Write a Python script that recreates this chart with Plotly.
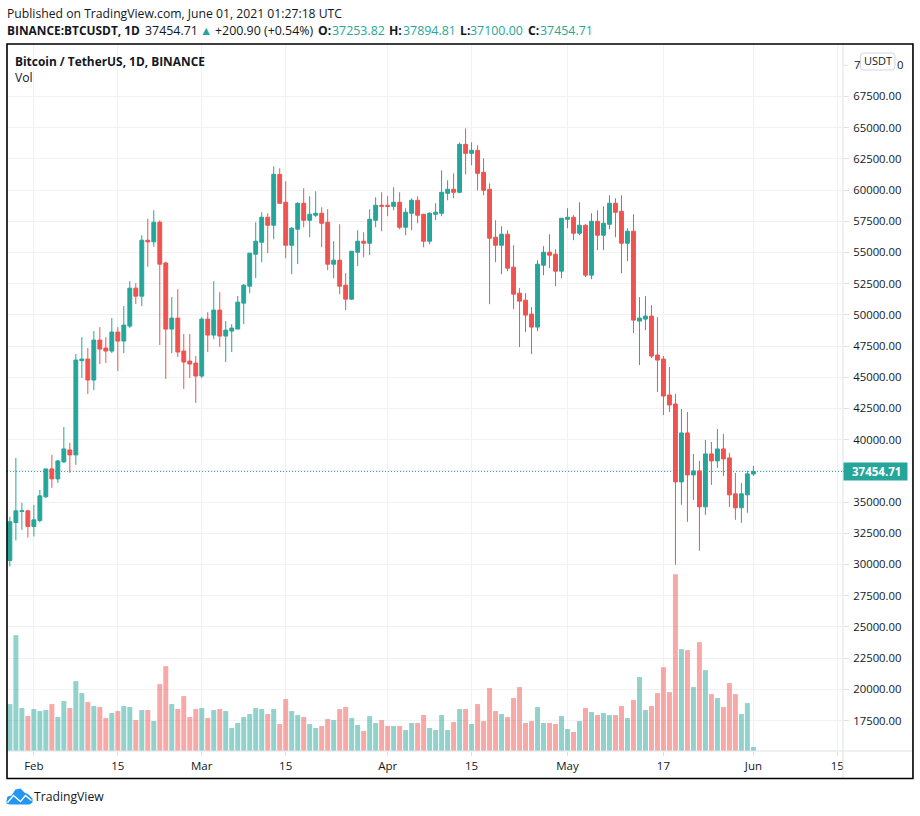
import pandas as pd
import plotly.graph_objects as go

FIRST_DAY = "2021-01-28"
opens = [30324,33365,34250,34300,33045,33525,35420,37660,36860,38220,39180,38780,46330,46460,44780,47980,47340,47100,48620,47900,49100,52140,51500,55980,55850,57420,54160,48860,49740,47100,46300,46140,
         45100,49660,48380,50380,48300,48700,48860,50940,52300,54860,55820,57820,57180,61260,59020,55580,56860,58940,57580,57980,58140,57420,54060,54380,52380,51260,55020,55900,55740,57580,58780,
         58780,58700,59020,57020,58140,59180,58060,55900,58060,58140,59740,60060,59820,63660,62940,63180,61420,60060,56220,55580,56460,53820,51740,51180,50060,49020,53980,55020,54860,53500,
         57660,57820,56540,57180,53180,57500,56380,57260,58940,58300,55740,56700,49500,49660,49900,46780,46460,43580,42860,36620,40540,37180,37500,34620,38860,38300,39260,38540,35660,34540,35580,37253.82]
highs = [33820,38540,34940,34380,34780,35980,37660,38780,38380,41020,39740,46860,48220,47340,48700,49020,48220,49740,49020,50700,52700,52540,56380,57710,58380,57580,54250,51420,52060,48460,48460,46700,
         49820,50220,52700,51820,49500,49260,51500,52460,54940,57420,58220,58140,61900,61740,60700,57020,59020,60140,59500,59900,58620,58460,55900,57260,53340,55100,56780,56620,58460,59420,59820,
         59500,60220,59820,58540,59340,59500,58060,58220,58940,61580,60780,61340,63820,64940,63820,63580,62540,60540,57580,57100,56780,55580,52140,51740,50620,54380,55500,56460,55260,57740,
         58540,57980,59020,57260,58140,58380,58700,59580,59340,59580,56940,58060,51420,51500,50780,49820,46700,45820,43660,42460,42220,38860,38300,39980,39820,40860,40460,38940,37340,36540,37500,37894.81]
lows = [29850,31925,32780,32165,32245,33365,35340,36140,36540,38140,37340,37980,44940,43660,43980,46060,46140,46940,45500,46940,48940,50860,50700,53850,55450,47580,44860,46940,46620,44060,44940,42940,
        44940,47020,48060,47420,46220,47020,48860,49260,51740,52940,54220,54940,56060,58940,54540,53260,54060,57020,56220,57820,55420,53580,52940,51660,50380,51180,53900,54620,54780,57020,56700,
        57900,58380,56860,56380,56780,57340,55420,55660,57580,57900,59180,59340,59740,61260,61980,59980,59580,50860,54220,53260,53500,50460,47420,48620,46860,48700,53180,53740,52300,52940,
        56940,55980,56380,53020,52860,55180,55180,56860,56220,53340,54300,48540,45980,48780,46540,43820,41980,42220,29980,34780,33420,35180,31100,33980,36380,37740,37100,34620,33580,33340,34140,37100.00]
closes = [33420,34300,34300,33045,33580,35500,37660,36860,38300,39260,38780,46380,46460,44780,47980,47260,47100,48620,47900,49180,52140,51500,55980,55850,57420,54060,48860,49740,47020,46220,46060,45100,
          49660,48380,50380,48300,48780,48940,51020,52380,54940,55900,57820,57180,61260,58940,55580,56940,58940,57580,58060,58140,57340,54060,54380,52300,51260,55100,55900,55740,57660,58780,58700,
          58700,59020,57020,58220,59180,57980,55900,58140,58220,59820,60060,59820,63660,62940,63180,61340,59980,56140,55580,56460,53740,51660,51100,49980,49020,54060,55020,54780,53500,57740,
          57820,56540,57180,53180,57500,56380,57340,58940,58220,55740,56700,49580,49740,49900,46700,46380,43500,42780,36620,40540,37180,37500,34620,38860,38300,39260,38460,35580,34540,35660,37260,37454.71]
# volume in thousands of BTC
volumes = [94,232,86,70,84,80,82,94,68,100,86,140,116,98,90,88,66,76,80,90,88,62,82,82,60,134,170,94,84,110,68,84,
           86,66,82,84,80,46,56,68,74,86,84,74,84,54,104,80,72,68,54,46,50,64,62,84,88,66,52,40,70,56,62,
           50,50,50,42,56,56,72,46,42,72,42,58,84,84,54,94,60,126,80,74,68,106,128,56,60,88,56,56,54,70,
           44,38,60,86,78,72,76,72,72,90,66,102,148,82,90,116,168,118,354,204,202,128,218,162,114,106,88,136,114,74,96,8]

price_ticks = [17500,20000,22500,25000,27500,30000,32500,35000,37500,40000,42500,45000,47500,50000,52500,55000,57500,60000,62500,65000,67500]
# 37500.00 lies behind the last-price label, so the reference shows no text for it
hidden_price_labels = [37500]
time_tick_dates = ["2021-02-01","2021-02-15","2021-03-01","2021-03-15","2021-04-01","2021-04-15","2021-05-01","2021-05-17","2021-06-01","2021-06-15"]
time_tick_labels = ["Feb","15","Mar","15","Apr","15","May","17","Jun","15"]

TITLE = "Bitcoin / TetherUS, 1D, BINANCE"
TEAL, RED = "#26a69a", "#ef5350"
TEXT = "#131722"
FONT = "Open Sans"
GRID = "#f0f1f4"
AXIS = "#dfe1e6"

# layout in pixels of the page
W, H = 920, 816
L, R, T, B = 6.5, 843.0, 43.5, 751.5

def px(x):
    return (x - L) / (R - L)

def py(y):
    return (B - y) / (B - T)

dates = pd.date_range(FIRST_DAY, periods=len(closes), freq="D")
bar_colors = ["rgba(38,166,154,0.5)" if c >= o else "rgba(239,83,80,0.5)" for o, c in zip(opens, closes)]

fig = go.Figure()
fig.add_trace(go.Bar(x=dates, y=volumes, yaxis="y2", marker=dict(color=bar_colors, line_width=0), showlegend=False, hoverinfo="skip"))
fig.add_trace(go.Candlestick(
    x=dates, open=opens, high=highs, low=lows, close=closes, whiskerwidth=0, showlegend=False,
    increasing=dict(line=dict(color=TEAL, width=1), fillcolor=TEAL),
    decreasing=dict(line=dict(color=RED, width=1), fillcolor=RED),
))

def rounded(x0, y0, x1, y1, r):
    X = lambda v: f"{px(v):.5f}"
    Y = lambda v: f"{py(v):.5f}"
    return (f"M{X(x0+r)},{Y(y0)} L{X(x1-r)},{Y(y0)} Q{X(x1)},{Y(y0)} {X(x1)},{Y(y0+r)} L{X(x1)},{Y(y1-r)} "
            f"Q{X(x1)},{Y(y1)} {X(x1-r)},{Y(y1)} L{X(x0+r)},{Y(y1)} Q{X(x0)},{Y(y1)} {X(x0)},{Y(y1-r)} "
            f"L{X(x0)},{Y(y0+r)} Q{X(x0)},{Y(y0)} {X(x0+r)},{Y(y0)} Z")

def poly(points, close=True):
    s = "M" + " L".join(f"{px(a):.5f},{py(b):.5f}" for a, b in points)
    return s + (" Z" if close else "")

def paper_line(x0, y0, x1, y1, color, width):
    return dict(type="line", xref="paper", yref="paper", x0=px(x0), x1=px(x1), y0=py(y0), y1=py(y1), line=dict(color=color, width=width), layer="above")

logo_blue = "#2196f3"
shapes = [
    dict(type="line", xref="paper", yref="y", x0=0, x1=1, y0=closes[-1], y1=closes[-1],
         line=dict(color=TEAL, width=1, dash="1px,2px"), layer="below"),
    paper_line(R, 43, R, 779, AXIS, 1),
    paper_line(6, B, 913, B, AXIS, 1),
    paper_line(R, 471.6, 848, 471.6, TEAL, 1),
    paper_line(R, 64.75, 848, 64.75, AXIS, 1),
    dict(type="rect", xref="paper", yref="paper", x0=px(843.5), x1=px(907.5), y0=py(462.5), y1=py(480.5), fillcolor=TEAL, line_width=0, layer="above"),
    dict(type="path", xref="paper", yref="paper", path=rounded(860.5, 52.5, 895, 69.5, 3), fillcolor="white", line=dict(color="#d5d7e2", width=1), layer="above"),
    dict(type="rect", xref="paper", yref="paper", x0=px(6.5), x1=px(913), y0=py(43.5), y1=py(779), fillcolor="rgba(0,0,0,0)", line=dict(color="black", width=1.6), layer="above"),
    dict(type="path", xref="paper", yref="paper", layer="above", fillcolor=logo_blue, line_width=0,
         path=poly([(6,801),(7,797),(11,796),(15,790),(20,789),(24,793),(28,795),(32,799),(32,803),(29,805),(9,805),(6,804)])),
    dict(type="path", xref="paper", yref="paper", layer="above", line=dict(color="white", width=1.4),
         path=poly([(7,803),(13,796),(20,802),(25,796),(31,801)], close=False)),
]

def note(text, x, y, size=12.2, color=TEXT, anchor="left"):
    return dict(text=text, xref="paper", yref="paper", x=px(x), y=py(y), xanchor=anchor, yanchor="middle",
                showarrow=False, align="left", font=dict(family=FONT, size=size, color=color), borderpad=0)

annotations = [
    note("Published on TradingView.com, June 01, 2021 01:27:18 UTC", 5, 12.5),
    note("<b>BINANCE:BTCUSDT, 1D</b>", 5, 29.5, size=11.9),
    note("37454.71", 143.5, 29.5, size=12.4),
    note("▲", 199, 29.5, size=12.4, color=TEAL),
    note("+200.90 (+0.54%)", 213.5, 29.5, size=12.4),
    note("<b>O:</b>", 316.5, 29.5),
    note("37253.82", 331, 29.5, size=12.4, color=TEAL),
    note("<b>H:</b>", 387.5, 29.5),
    note("37894.81", 401.5, 29.5, size=12.4, color=TEAL),
    note("<b>L:</b>", 458.5, 29.5),
    note("37100.00", 469, 29.5, size=12.4, color=TEAL),
    note("<b>C:</b>", 526.5, 29.5),
    note("37454.71", 539, 29.5, size=12.4, color=TEAL),
    note(f"<b>{TITLE}</b>", 14, 60.5, size=11.9),
    note("Vol", 14, 77.5),
    note(f"<b>{closes[-1]:.2f}</b>", 877, 471.5, anchor="center", color="white", size=11.5),
    note("TradingView", 33, 797.5, size=12.2),
    # the axis' top label sits partly behind the currency badge
    note("7", 853, 64.5, size=11.3),
    note("0", 896, 64.5, size=11.3),
    note("USDT", 877.7, 60.5, anchor="center", size=11),
]

fig.update_layout(
    width=W, height=H, autosize=False,
    paper_bgcolor="white", plot_bgcolor="white",
    margin=dict(l=L, r=W - R, t=T, b=H - B, pad=0, autoexpand=False),
    font=dict(family=FONT, size=11.3, color=TEXT),
    bargap=0.17, boxgap=0.08,
    shapes=shapes, annotations=annotations,
    xaxis=dict(type="date", range=["2021-01-27 12:30", "2021-06-15 22:40"], rangeslider=dict(visible=False),
               tickmode="array", tickvals=time_tick_dates, ticktext=time_tick_labels, ticks="outside", ticklen=4,
               tickcolor=AXIS, showgrid=True, gridcolor=GRID, gridwidth=1, zeroline=False, showline=False,
               tickangle=0, tickfont=dict(size=11.5)),
    yaxis=dict(side="right", range=[15060, 71700], tickmode="array", tickvals=price_ticks,
               ticktext=["" if v in hidden_price_labels else f"{v:.2f}" for v in price_ticks],
               ticks="outside", ticklen=5, tickcolor=AXIS, ticklabelstandoff=2,
               showgrid=True, gridcolor=GRID, gridwidth=1, zeroline=False, showline=False),
    yaxis2=dict(overlaying="y", range=[0, 1416], visible=False),
)

fig.write_html("out.html", post_script="document.body.style.margin='0';", config=dict(displayModeBar=False))
